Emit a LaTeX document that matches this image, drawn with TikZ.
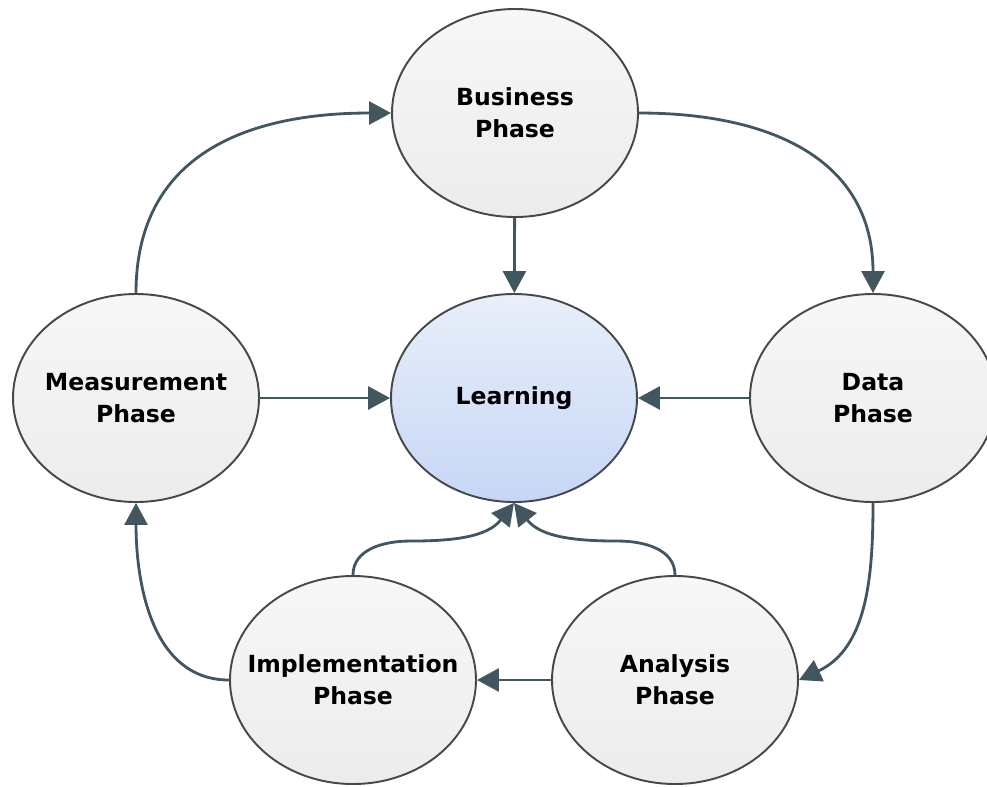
\documentclass[tikz,border=0pt]{standalone}
\usepackage{fontspec}
\setmainfont{DejaVu Sans}
\usetikzlibrary{shapes.geometric,arrows.meta}
\definecolor{rimgray}{RGB}{72,72,72}
\definecolor{phasetop}{RGB}{247,247,247}
\definecolor{phasebot}{RGB}{236,236,236}
\definecolor{coretop}{RGB}{233,239,250}
\definecolor{corebot}{RGB}{198,214,245}
\definecolor{flowc}{RGB}{66,86,96}
\begin{document}
\begin{tikzpicture}[
        phase/.style = {ellipse, draw = rimgray, line width = 1.1pt,
            top color = phasetop, bottom color = phasebot,
            minimum width = 4.92cm, minimum height = 4.16cm,
            inner xsep = -0.6cm, inner ysep = 0pt, align = center,
            font = \bfseries\fontsize{13.4}{18.2}\selectfont},
        core/.style = {phase, top color = coretop, bottom color = corebot},
        flow/.style = {draw = flowc, line width = 1.6pt,
            -{Triangle[length = 4.4mm, width = 4.6mm]}}
    ]
        \useasboundingbox (0,0) rectangle (19.74,-15.72);

        \node[phase] (busi) at (10.30,-2.26) {Business\\Phase};
        \node[core] (learn) at (10.28,-7.96) {Learning};
        \node[phase] (meas) at (2.72,-7.96) {Measurement\\Phase};
        \node[phase] (data) at (17.46,-7.96) {Data\\Phase};
        \node[phase] (impl) at (7.06,-13.60) {Implementation\\Phase};
        \node[phase] (anal) at (13.50,-13.60) {Analysis\\Phase};

        \draw[flow] (busi) -- (learn);
        \draw[flow] (meas) -- (learn);
        \draw[flow] (data) -- (learn);
        \draw[flow] (anal) -- (impl);
        \draw[flow] (meas.north) to[out = 90, in = 180, looseness = 1.15] (busi.west);
        \draw[flow] (busi.east) to[out = 0, in = 90, looseness = 1.15] (data.north);
        \draw[flow] (data.south) to[out = -90, in = 25] (anal.east);
        \draw[flow] (impl.west) to[out = 180, in = -90] (meas.south);
        \draw[flow] (impl.north) to[out = 90, in = 180] ++(1.14,0.68)
            to[out = 0, in = 232] (learn.south);
        \draw[flow] (anal.north) to[out = 90, in = 0] ++(-1.14,0.68)
            to[out = 180, in = -52] (learn.south);
\end{tikzpicture}
\end{document}
